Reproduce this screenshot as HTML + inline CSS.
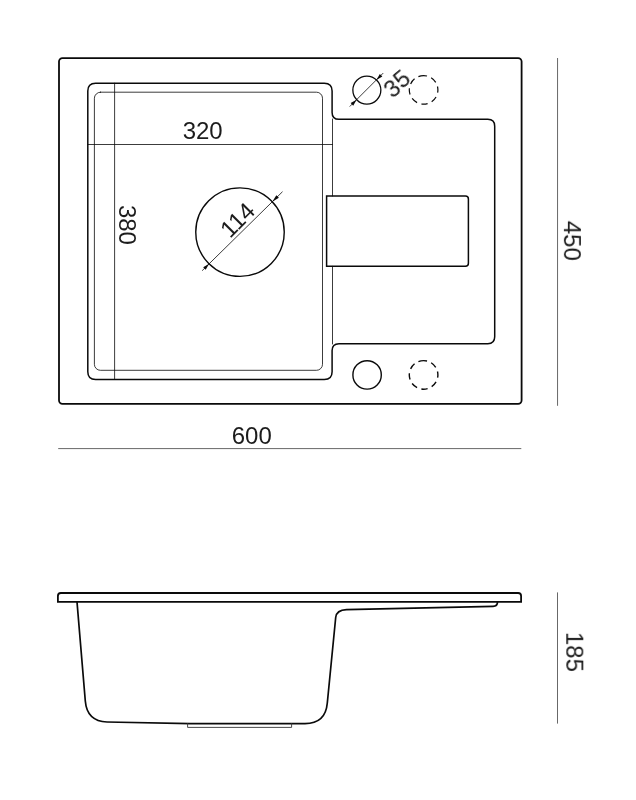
<!DOCTYPE html>
<html lang="en">
<head>
<meta charset="utf-8">
<title>Sink dimensions 600 x 450 x 185</title>
<style>
html,body{margin:0;padding:0;background:#fff;}
body{width:636px;height:800px;overflow:hidden;}
svg{display:block;}
text{font-family:"Liberation Sans",Arial,Helvetica,sans-serif;fill:#1c1c1c;}
</style>
</head>
<body>
<svg width="636" height="800" viewBox="0 0 636 800">
<rect x="0" y="0" width="636" height="800" fill="#ffffff"/>

<!-- TOP VIEW -->
<g fill="none" stroke="#0a0a0a" stroke-linejoin="round" stroke-linecap="round">
  <!-- outer body -->
  <rect x="59" y="58.1" width="462.6" height="345.7" rx="3.5" ry="3.5" stroke-width="1.8"/>
  <!-- bowl + drainer outline (single union outline) -->
  <path stroke-width="1.5" d="M339 119.3 H487.8 Q494.7 119.3 494.7 126.2 V336.8 Q494.7 343.7 487.8 343.7 H339 Q332.1 343.7 332.1 350.6 V371.7 Q332.1 379.5 324.3 379.5 H95.6 Q87.8 379.5 87.8 371.7 V91 Q87.8 83.2 95.6 83.2 H324.3 Q332.1 83.2 332.1 91 V112.4 Q332.1 119.3 339 119.3"/>
  <!-- overflow box -->
  <path stroke-width="1.5" stroke-linejoin="miter" d="M326.6 196 H465.4 Q468.4 196 468.4 199 V263.3 Q468.4 266.3 465.4 266.3 H326.6 Z"/>
  <!-- thin inner bowl -->
  <rect x="94.4" y="92.2" width="228.1" height="278.1" rx="6" ry="6" stroke-width="0.8"/>
  <!-- thin right edge continuation -->
  <path stroke-width="0.8" d="M332.5 119 V196 M332.5 266.3 V344"/>
  <!-- thin dimension guides -->
  <path stroke-width="0.8" d="M114.6 83.2 V379.5 M87.8 144.5 H332.5"/>
  <!-- drain circle -->
  <circle cx="240" cy="232.1" r="44.25" stroke-width="1.4"/>
  <path stroke-width="0.8" d="M202.43 270.40 L282.25 191.97"/>
  <!-- tap holes -->
  <circle cx="366.85" cy="90.1" r="14" stroke-width="1.3"/>
  <path stroke-width="0.8" d="M350.02 106.28 L382.98 73.32"/>
  <circle cx="423.6" cy="89.9" r="14.3" stroke-width="1.2" stroke-dasharray="6.4 4.46" stroke-dashoffset="2.9" stroke-linecap="butt" transform="rotate(-90 423.6 89.9)"/>
  <circle cx="367.1" cy="374.9" r="14.2" stroke-width="1.4"/>
  <circle cx="423.6" cy="374.9" r="14.3" stroke-width="1.4" stroke-dasharray="6.4 4.46" stroke-dashoffset="2.9" stroke-linecap="butt" transform="rotate(-90 423.6 374.9)"/>
</g>
<!-- arrow heads -->
<g fill="#0a0a0a" stroke="none">
  <polygon points="272.26,201.78 278.87,197.81 276.35,195.24"/>
  <polygon points="209.14,263.82 205.69,269.73 203.17,267.16"/>
  <polygon points="376.40,79.90 382.34,76.51 379.79,73.96"/>
  <polygon points="356.60,99.70 353.21,105.64 350.66,103.09"/>
</g>

<!-- dimension lines -->
<g fill="none" stroke="#686868" stroke-width="1">
  <path d="M58.2 448.6 H521.3"/>
  <path d="M557.55 58 V405.8"/>
  <path d="M557.5 592.4 V723.6"/>
</g>

<!-- SIDE VIEW -->
<g fill="none" stroke="#0a0a0a" stroke-linejoin="round" stroke-linecap="round">
  <path stroke-width="1.8" stroke-linejoin="miter" d="M57.9 601.9 V596 Q57.9 593 60.9 593 H518.1 Q521.1 593 521.1 596 V601.9 Z"/>
  <path stroke-width="1.7" d="M77 601.9 L85.3 701 Q87 721.3 107 722 L190 723.6 H305 Q325.5 723.6 327.3 703 L335.7 617.5 C336.3 612 340.5 609.75 346.5 609.6 L493 606.4 Q497.5 606.3 497.5 602"/>
  <path stroke-width="0.9" stroke="#333" d="M187.6 723.6 V727.4 H291.6 V723.6"/>
</g>

<!-- labels -->
<g opacity="0.999">
<text x="202.7" y="139.2" font-size="24" text-anchor="middle">320</text>
<text x="251.8" y="443.6" font-size="24" text-anchor="middle">600</text>
<text transform="translate(119.4 224.9) rotate(90)" font-size="24" text-anchor="middle">380</text>
<text transform="translate(563.9 240.8) rotate(90)" font-size="24" text-anchor="middle">450</text>
<text transform="translate(566.3 651.9) rotate(90)" font-size="24" text-anchor="middle">185</text>
<text transform="translate(243.2 225.7) rotate(-45)" font-size="23.6" text-anchor="middle">114</text>
<text transform="translate(392.56 99.07) rotate(-40.5)" font-size="23.6" dx="0 0.4" dy="0 -0.6">35</text>
</g>
</svg>
</body>
</html>
